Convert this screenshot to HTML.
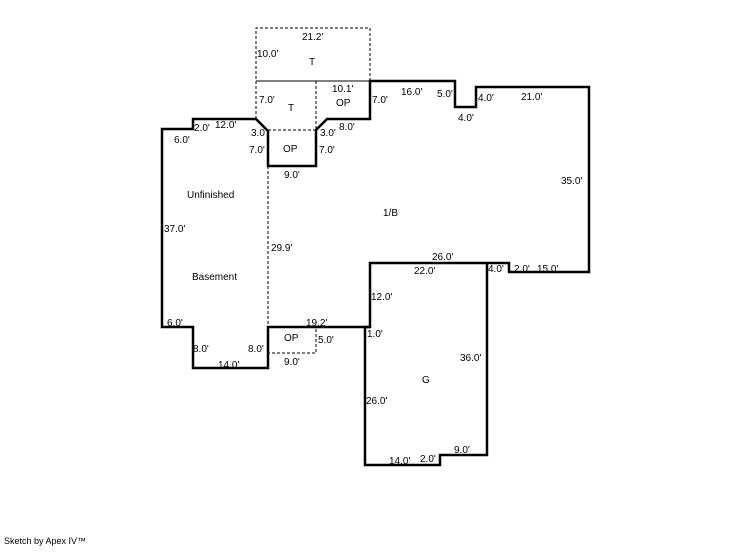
<!DOCTYPE html>
<html><head><style>
body{margin:0;background:#fff;}
svg text{font-family:"Liberation Sans",sans-serif;font-size:10px;fill:#000;}
</style></head><body>
<svg width="746" height="547" viewBox="0 0 746 547" xmlns="http://www.w3.org/2000/svg">
<g fill="none" stroke="#000" stroke-width="1" stroke-dasharray="3,2">
<polyline points="256,119 256,28 370,28 370,81"/>
<line x1="316" y1="81" x2="316" y2="130"/>
<line x1="268" y1="130" x2="316" y2="130"/>
<line x1="268" y1="166" x2="268" y2="327"/>
<polyline points="268,327 316,327 316,353 268,353 268,327"/>
</g>
<line x1="256" y1="81" x2="370" y2="81" stroke="#000" stroke-width="1"/>
<g fill="none" stroke="#000" stroke-width="2.5" stroke-linejoin="miter">
<polygon points="162,327 162,129 193,129 193,119 256,119 268,131 268,166 316,166 316,130 327,119 370,119 370,81 455,81 455,107 476,107 476,87 589,87 589,272 509,272 509,263 370,263 370,327 268,327 268,368 193,368 193,327"/>
<polyline points="487,263 487,455 440,455 440,465 365,465 365,327 370,327"/>
</g>
<g>
<text x="302" y="40">21.2'</text>
<text x="257" y="57">10.0'</text>
<text x="309" y="65">T</text>
<text x="259" y="103">7.0'</text>
<text x="288" y="111">T</text>
<text x="332" y="92">10.1'</text>
<text x="336" y="106">OP</text>
<text x="372" y="103">7.0'</text>
<text x="401" y="95">16.0'</text>
<text x="437" y="97">5.0'</text>
<text x="478" y="101">4.0'</text>
<text x="458" y="121">4.0'</text>
<text x="521" y="100">21.0'</text>
<text x="194" y="131">2.0'</text>
<text x="215" y="128">12.0'</text>
<text x="174" y="143">6.0'</text>
<text x="251" y="136">3.0</text>
<text x="320" y="136">3.0'</text>
<text x="339" y="130">8.0'</text>
<text x="249" y="153">7.0'</text>
<text x="319" y="153">7.0'</text>
<text x="283" y="152">OP</text>
<text x="284" y="178">9.0'</text>
<text x="187" y="198">Unfinished</text>
<text x="383" y="216">1/B</text>
<text x="561" y="184">35.0'</text>
<text x="164" y="232">37.0'</text>
<text x="271" y="251">29.9'</text>
<text x="432" y="260">26.0'</text>
<text x="414" y="274">22.0'</text>
<text x="488" y="272">4.0'</text>
<text x="514" y="272">2.0'</text>
<text x="537" y="272">15.0'</text>
<text x="192" y="280">Basement</text>
<text x="371" y="300">12.0'</text>
<text x="167" y="326">6.0'</text>
<text x="306" y="326">19.2'</text>
<text x="284" y="341">OP</text>
<text x="318" y="343">5.0'</text>
<text x="367" y="337">1.0'</text>
<text x="193" y="352">8.0'</text>
<text x="248" y="352">8.0'</text>
<text x="218" y="368">14.0'</text>
<text x="284" y="365">9.0'</text>
<text x="460" y="361">36.0'</text>
<text x="422" y="383">G</text>
<text x="366" y="404">26.0'</text>
<text x="454" y="453">9.0'</text>
<text x="389" y="464">14.0'</text>
<text x="420" y="462">2.0'</text>
<text x="4" y="544" style="font-size:9px">Sketch by Apex IV™</text>
</g>
</svg>
</body></html>
